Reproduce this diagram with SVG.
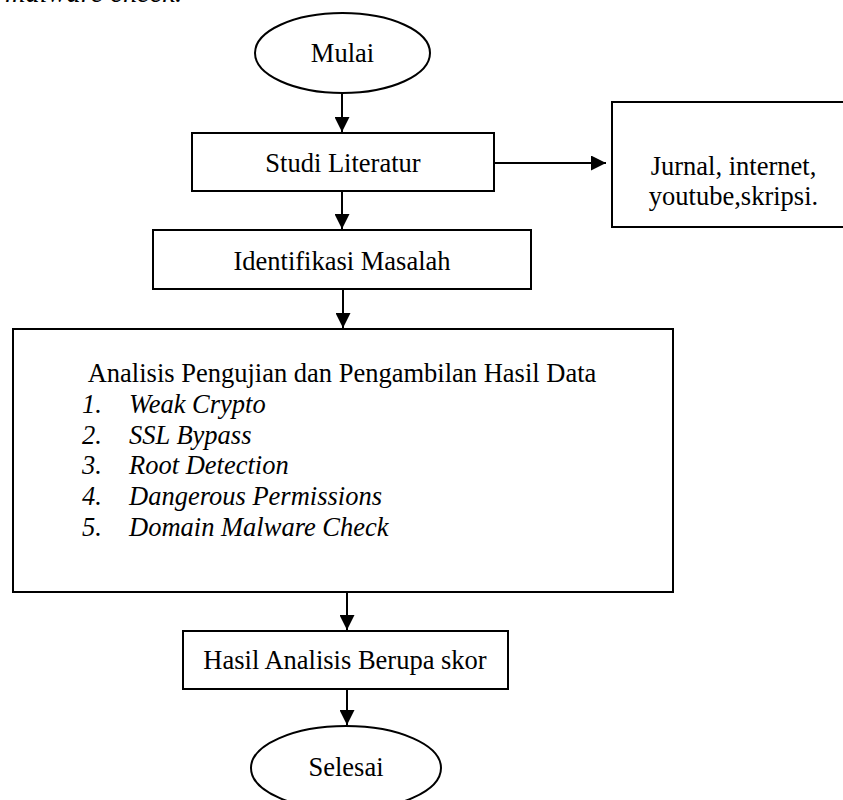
<svg xmlns="http://www.w3.org/2000/svg" width="843" height="800" viewBox="0 0 843 800">
<defs>
<marker id="ah" markerWidth="15" markerHeight="15" refX="15" refY="7.5" orient="auto" markerUnits="userSpaceOnUse">
<path d="M0,0 L15,7.5 L0,15 Z" fill="#000"/>
</marker>
<style>
.s{fill:#fff;stroke:#000;stroke-width:2}
.t{font-family:"Liberation Serif","Times New Roman",serif;font-size:26.5px;fill:#000}
.c{text-anchor:middle}
.i{font-style:italic}
.e{stroke:#000;stroke-width:2;fill:none;marker-end:url(#ah)}
</style>
</defs>
<rect width="843" height="800" fill="#fff"/>
<text class="t i" x="5" y="2" textLength="177" lengthAdjust="spacingAndGlyphs">malware check.</text>
<g id="connectors">
<line class="e" x1="342" y1="93" x2="342" y2="132"/>
<line class="e" x1="342" y1="191" x2="342" y2="229"/>
<line class="e" x1="494" y1="163" x2="606" y2="163"/>
<line class="e" x1="343" y1="289" x2="343" y2="328"/>
<line class="e" x1="347" y1="592" x2="347" y2="630"/>
<line class="e" x1="347" y1="689" x2="347" y2="725"/>
</g>
<g id="mulai">
<ellipse class="s" cx="342.5" cy="53" rx="87.5" ry="40"/>
<text class="t c" x="342.5" y="62">Mulai</text>
</g>
<g id="studi">
<rect class="s" x="192" y="133" width="302" height="58"/>
<text class="t c" x="343" y="172">Studi Literatur</text>
</g>
<g id="jurnal">
<rect class="s" x="612" y="102" width="240" height="125"/>
<text class="t c" x="733.5" y="175">Jurnal, internet,</text>
<text class="t c" x="733.5" y="205">youtube,skripsi.</text>
</g>
<g id="identifikasi">
<rect class="s" x="153" y="230" width="378" height="59"/>
<text class="t c" x="342" y="270">Identifikasi Masalah</text>
</g>
<g id="analisis">
<rect class="s" x="13" y="329" width="660" height="263"/>
<text class="t c" x="342" y="382">Analisis Pengujian dan Pengambilan Hasil Data</text>
<g class="t i">
<text x="82" y="413">1.</text><text x="129" y="413">Weak Crypto</text>
<text x="82" y="444">2.</text><text x="129" y="444">SSL Bypass</text>
<text x="82" y="474">3.</text><text x="129" y="474">Root Detection</text>
<text x="82" y="505">4.</text><text x="129" y="505">Dangerous Permissions</text>
<text x="82" y="536">5.</text><text x="129" y="536">Domain Malware Check</text>
</g>
</g>
<g id="hasil">
<rect class="s" x="183" y="631" width="325" height="58"/>
<text class="t c" x="345" y="669">Hasil Analisis Berupa skor</text>
</g>
<g id="selesai">
<ellipse class="s" cx="346" cy="768" rx="95" ry="42"/>
<text class="t c" x="346" y="776">Selesai</text>
</g>
</svg>
